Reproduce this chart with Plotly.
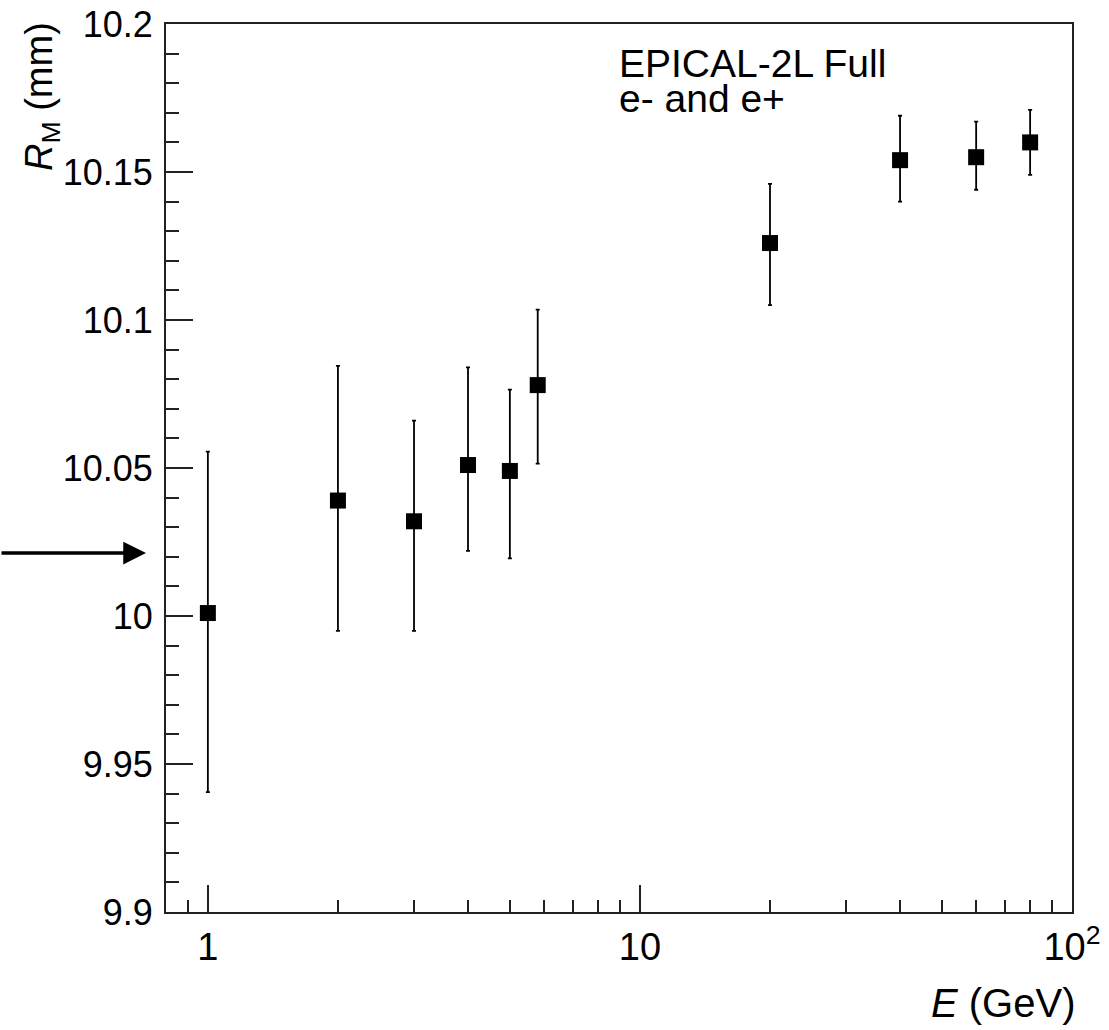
import plotly.graph_objects as go

# Data
energy = [1, 2, 3, 4, 5, 5.8, 20, 40, 60, 80]
rm = [10.001, 10.039, 10.032, 10.051, 10.049, 10.078, 10.126, 10.154, 10.155, 10.160]
err_plus = [0.0545, 0.0455, 0.034, 0.033, 0.0275, 0.0255, 0.020, 0.015, 0.012, 0.011]
err_minus = [0.0605, 0.044, 0.037, 0.029, 0.0295, 0.0265, 0.021, 0.014, 0.011, 0.011]

x_major = [1, 10, 100]
x_major_text = ["1", "10", "10<sup>2</sup>"]
x_minor = [0.9, 2, 3, 4, 5, 6, 7, 8, 9, 20, 30, 40, 50, 60, 70, 80, 90]
y_major = [9.9, 9.95, 10.0, 10.05, 10.1, 10.15, 10.2]
y_major_text = ["9.9", "9.95", "10", "10.05", "10.1", "10.15", "10.2"]
y_minor = [round(9.9 + 0.01 * i, 2) for i in range(31)]

FONT = "Liberation Sans, Arial, sans-serif"

# body margin is removed in the page, so figure px == page px
L, R, T, B = 166, 1072, 24, 912
W, H = 1109, 1030


def px(x):
    return (x - L) / (R - L)


def py(y):
    return (B - y) / (B - T)


fig = go.Figure()
fig.add_trace(go.Scatter(
    x=energy, y=rm, mode="markers",
    marker=dict(symbol="square", size=16, color="black"),
    error_y=dict(type="data", symmetric=False, array=err_plus, arrayminus=err_minus,
                 color="black", thickness=1.8, width=2),
    showlegend=False,
))

axis_line = dict(showline=True, linecolor="#222", linewidth=2, mirror=True,
                 showgrid=False, zeroline=False, automargin=False,
                 ticklabeloverflow="allow")

fig.update_xaxes(
    type="log", range=[-0.0969, 2.0],
    tickmode="array", tickvals=x_major, ticktext=x_major_text,
    ticks="inside", ticklen=27, tickwidth=2, tickcolor="#222",
    minor=dict(tickmode="array", tickvals=x_minor, ticks="inside", ticklen=12,
               tickwidth=2, tickcolor="#222", showgrid=False),
    tickfont=dict(family=FONT, size=38, color="black"),
    **axis_line,
)
fig.update_yaxes(
    range=[9.9, 10.2],
    tickmode="array", tickvals=y_major, ticktext=y_major_text,
    ticks="inside", ticklen=27, tickwidth=2, tickcolor="#222",
    minor=dict(tickmode="array", tickvals=y_minor, ticks="inside", ticklen=13,
               tickwidth=2, tickcolor="#222", showgrid=False),
    tickfont=dict(family=FONT, size=36, color="black"),
    ticklabelstandoff=4,
    **axis_line,
)

fig.update_layout(
    width=W, height=H,
    margin=dict(l=L, r=W - R, t=T, b=H - B, pad=0),
    plot_bgcolor="white", paper_bgcolor="white",
    font=dict(family=FONT, color="black"),
    annotations=[
        dict(text="EPICAL-2L Full", xref="paper", yref="paper",
             x=px(617), y=py(63), xanchor="left", yanchor="middle",
             showarrow=False, font=dict(family=FONT, size=39, color="black")),
        dict(text="e- and e+", xref="paper", yref="paper",
             x=px(617), y=py(99), xanchor="left", yanchor="middle",
             showarrow=False, font=dict(family=FONT, size=39, color="black")),
        dict(text="<i>E</i> (GeV)", xref="paper", yref="paper",
             x=px(1077), y=py(1003), xanchor="right", yanchor="middle",
             showarrow=False, font=dict(family=FONT, size=40, color="black")),
        dict(text="<i>R</i><sub>M</sub> (mm)", xref="paper", yref="paper",
             x=px(42), y=py(97), xanchor="center", yanchor="middle",
             textangle=-90, showarrow=False,
             font=dict(family=FONT, size=38, color="black")),
        dict(text="", xref="paper", yref="paper", x=px(146), y=py(553),
             showarrow=True, ax=-160, ay=0, axref="pixel", ayref="pixel",
             arrowhead=2, arrowsize=1.3, arrowwidth=3.5, arrowcolor="black"),
    ],
)

fig.write_html("out.html", config={"displayModeBar": False},
               post_script="document.body.style.margin='0px';")
